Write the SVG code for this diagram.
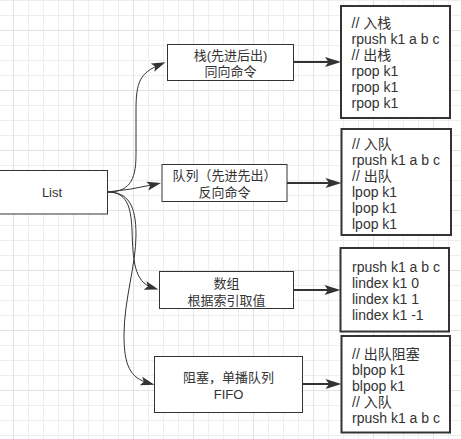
<svg xmlns="http://www.w3.org/2000/svg" width="461" height="439" viewBox="0 0 461 439">
<defs>
<pattern id="grid" patternUnits="userSpaceOnUse" x="13" y="30" width="60" height="60">
<path d="M15.5 0V60M30.5 0V60M45.5 0V60M0 15.5H60M0 30.5H60M0 45.5H60" stroke="#eeeeee" stroke-width="1" fill="none"/>
<path d="M0.5 0V60M0 0.5H60" stroke="#e2e2e2" stroke-width="1" fill="none"/>
</pattern>
<marker id="ah" markerUnits="userSpaceOnUse" markerWidth="14" markerHeight="10" refX="8" refY="5" orient="auto" overflow="visible">
<path d="M0,0.5 L14,5 L0,9.5 L3,5 Z" fill="#333"/>
</marker>
<marker id="ahb" markerUnits="userSpaceOnUse" markerWidth="16" markerHeight="11" refX="9" refY="5.5" orient="auto" overflow="visible">
<path d="M0,0.5 L16,5.5 L0,10.5 L3.5,5.5 Z" fill="#333"/>
</marker>
</defs>
<style>
.node rect{fill:#fff;stroke:#333;stroke-width:1}
.code rect{fill:#fff;stroke:#333;stroke-width:2}
text{font-family:"Liberation Sans","Noto Sans CJK SC",sans-serif;fill:#333}
.node text{font-size:13px;text-anchor:middle}
.code text{font-size:14px}
.edges path{fill:none;stroke:#333}
.thin{stroke-width:1;marker-end:url(#ah)}
.thick{stroke-width:2;marker-end:url(#ahb)}
</style>
<rect width="461" height="439" fill="#fff"/>
<rect width="461" height="439" fill="url(#grid)"/>

<g id="edges" class="edges">
<path class="thin" d="M107.5,192 C128,192 136,182 136,155 L136,110 C136,82 140,73 159.9,64.6"/>
<path class="thin" d="M107.5,192 Q130,190 155.1,184.3"/>
<path class="thin" d="M107.5,192 C126,192 131,205 132,230 C133,260 134,282 152.7,287.8"/>
<path class="thin" d="M107.5,192 C128,192 136,205 136,235 C136,265 124,300 124,335 C124,365 130,378 148.7,383.1"/>
<path class="thick" d="M293.5,62 H334"/>
<path class="thick" d="M287,183 H334.5"/>
<path class="thick" d="M293.5,290 H333.5"/>
<path class="thick" d="M302.5,384 H334.5"/>
</g>

<g id="list" class="node">
<rect x="-5" y="170.5" width="112.5" height="43.5"/>
<text x="52" y="196.5">List</text>
</g>

<g id="stack" class="node">
<rect x="167.5" y="44.5" width="126" height="36"/>
<text x="230.5" y="59.5">栈(先进后出)</text>
<text x="230.5" y="76">同向命令</text>
</g>

<g id="queue" class="node">
<rect x="162" y="164.5" width="125" height="37"/>
<text x="224.5" y="180">队列（先进先出）</text>
<text x="224.5" y="197">反向命令</text>
</g>

<g id="array" class="node">
<rect x="159.5" y="271.5" width="134" height="37"/>
<text x="226.5" y="287.5">数组</text>
<text x="226.5" y="304.5">根据索引取值</text>
</g>

<g id="blocking" class="node">
<rect x="154.5" y="356.5" width="148" height="56"/>
<text x="228.5" y="381.5">阻塞，单播队列</text>
<text x="228.5" y="398.5">FIFO</text>
</g>

<g id="code-stack" class="code">
<rect x="341" y="6" width="109" height="112"/>
<text x="351.5" y="28">// 入栈</text>
<text x="351.5" y="44">rpush k1 a b c</text>
<text x="351.5" y="60">// 出栈</text>
<text x="351.5" y="76">rpop k1</text>
<text x="351.5" y="92">rpop k1</text>
<text x="351.5" y="108">rpop k1</text>
</g>

<g id="code-queue" class="code">
<rect x="341.5" y="129" width="109.5" height="106"/>
<text x="352" y="149">// 入队</text>
<text x="352" y="165">rpush k1 a b c</text>
<text x="352" y="181">// 出队</text>
<text x="352" y="197">lpop k1</text>
<text x="352" y="213">lpop k1</text>
<text x="352" y="229">lpop k1</text>
</g>

<g id="code-array" class="code">
<rect x="340.5" y="248" width="108.5" height="83.5"/>
<text x="352" y="271.5">rpush k1 a b c</text>
<text x="352" y="287.5">lindex k1 0</text>
<text x="352" y="303.5">lindex k1 1</text>
<text x="352" y="319.5">lindex k1 -1</text>
</g>

<g id="code-blocking" class="code">
<rect x="341.5" y="336" width="108.5" height="96.5"/>
<text x="352" y="358.5">// 出队阻塞</text>
<text x="352" y="374.5">blpop k1</text>
<text x="352" y="390.5">blpop k1</text>
<text x="352" y="406.5">// 入队</text>
<text x="352" y="422.5">rpush k1 a b c</text>
</g>
</svg>
